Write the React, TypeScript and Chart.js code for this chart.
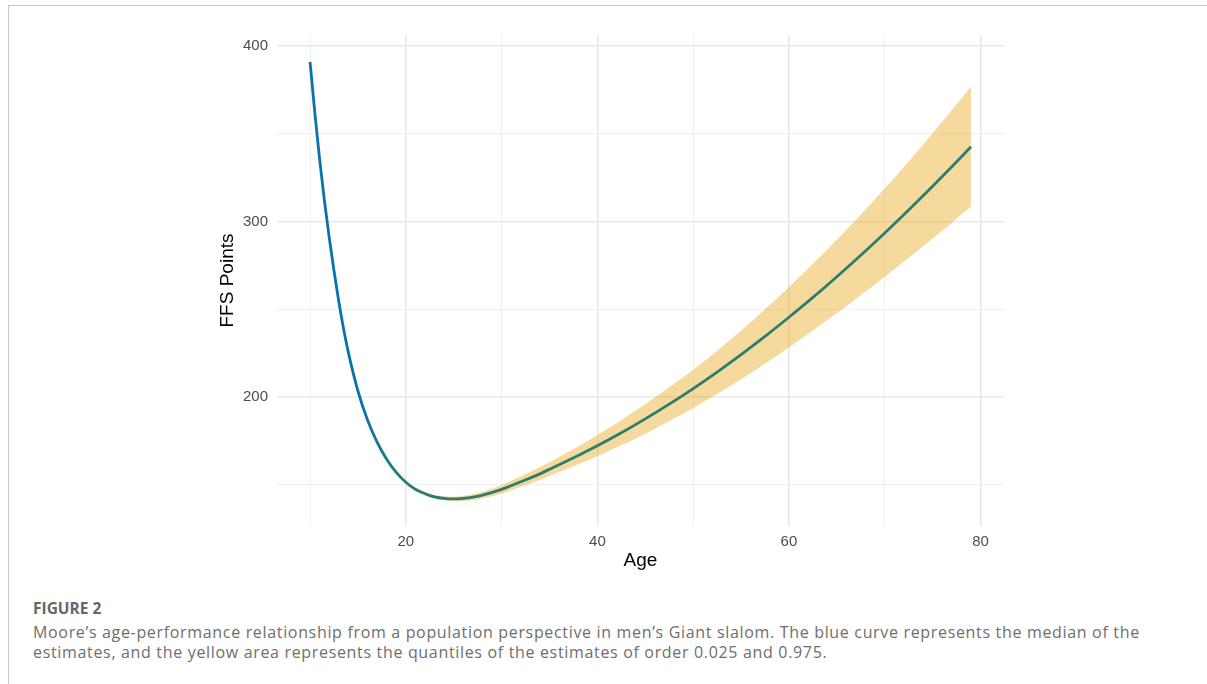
import React, { useEffect, useRef } from "react";
import { Chart, registerables } from "chart.js";

Chart.register(...registerables);

const ages = [10, 10.5, 11, 11.5, 12, 12.5, 13, 13.5, 14, 15, 16, 17, 18, 19, 20, 21, 22, 23, 24, 25, 26, 27, 28, 30, 32, 34, 36, 38, 40, 42.5, 45, 47.5, 50, 52.5, 55, 57.5, 60, 62.5, 65, 67.5, 70, 72.5, 75, 77, 79];
const median = [391, 362, 335.5, 312, 291, 272, 254.5, 239, 225.5, 203.5, 187, 174.4, 164.6, 157.1, 151.5, 147.5, 145, 143.2, 142.3, 142, 142.3, 143, 144.2, 147.5, 151.8, 156.3, 161.5, 166.8, 172.3, 179.7, 187.6, 196.0, 204.9, 214.3, 224.2, 234.6, 245.5, 256.8, 268.6, 280.8, 293.5, 306.6, 320.1, 331.2, 342.6];
const upper = [391.3, 362.3, 335.8, 312.3, 291.3, 272.3, 254.8, 239.3, 225.9, 203.9, 187.5, 174.9, 165.2, 157.7, 152.2, 148.3, 145.9, 144.2, 143.5, 143.3, 143.8, 144.7, 146.1, 150.0, 154.9, 160.0, 165.9, 171.9, 178.4, 187.0, 196.1, 205.6, 215.6, 226.5, 238.0, 250.1, 262.8, 276.0, 289.7, 304.0, 318.9, 334.3, 350.3, 363.4, 376.9];
const lower = [390.7, 361.7, 335.2, 311.7, 290.7, 271.7, 254.2, 238.7, 225.1, 203.1, 186.5, 173.9, 164.0, 156.5, 150.8, 146.7, 144.1, 142.2, 141.2, 140.7, 140.8, 141.3, 142.3, 145.0, 148.9, 152.8, 157.3, 161.8, 166.4, 172.6, 179.2, 186.3, 193.8, 201.8, 210.2, 219.0, 228.3, 238.0, 247.9, 258.1, 268.6, 279.4, 290.4, 299.4, 308.6];

const xTicks = [10, 20, 30, 40, 50, 60, 70, 80];
const xLabelled = [20, 40, 60, 80];
const yTicks = [150, 200, 250, 300, 350, 400];
const yLabelled = [200, 300, 400];

const FONT = '"Liberation Sans", Arial, sans-serif';
const BLUE = "#0673ab";
const TEAL = "#2b7d6c";

export default function App() {
  const ref = useRef<HTMLCanvasElement>(null);

  useEffect(() => {
    if (!ref.current) return;
    const pts = (arr: number[]) => ages.map((a, i) => ({ x: a, y: arr[i] }));
    const gridColor = (major: boolean) => (major ? "#e8e8e8" : "#eeeeee");
    const lineColor = (c: any) => {
      const chart = c.chart;
      const xs = chart.scales?.x;
      if (!chart.chartArea || !xs) return BLUE;
      const g = chart.ctx.createLinearGradient(xs.getPixelForValue(15.5), 0, xs.getPixelForValue(20), 0);
      g.addColorStop(0, BLUE);
      g.addColorStop(1, TEAL);
      return g;
    };
    const chart = new Chart(ref.current, {
      type: "line",
      data: {
        datasets: [
          {
            label: "median",
            data: pts(median),
            borderColor: lineColor,
            borderWidth: 2.8,
            pointRadius: 0,
            cubicInterpolationMode: "monotone",
            fill: false,
            order: 0,
          },
          {
            label: "upper",
            data: pts(upper),
            borderColor: "rgba(0,0,0,0)",
            borderWidth: 0,
            backgroundColor: "rgba(232,160,10,0.4)",
            pointRadius: 0,
            cubicInterpolationMode: "monotone",
            fill: "+1",
            order: 1,
          },
          {
            label: "lower",
            data: pts(lower),
            borderColor: "rgba(0,0,0,0)",
            borderWidth: 0,
            pointRadius: 0,
            cubicInterpolationMode: "monotone",
            fill: false,
            order: 1,
          },
        ],
      },
      options: {
        animation: false,
        responsive: false,
        devicePixelRatio: 1,
        layout: { padding: { left: 200, right: 203, top: 35, bottom: 14 } },
        plugins: { legend: { display: false }, tooltip: { enabled: false } },
        scales: {
          x: {
            type: "linear",
            min: 6.55,
            max: 82.45,
            afterBuildTicks: (s: any) => {
              s.ticks = xTicks.map((v) => ({ value: v }));
            },
            afterFit: (s: any) => {
              s.height = 50;
            },
            ticks: {
              autoSkip: false,
              maxRotation: 0,
              padding: 7,
              color: "#4d4d4d",
              font: { family: FONT, size: 15 },
              callback: (v: any) => (xLabelled.includes(Number(v)) ? String(v) : ""),
            },
            grid: {
              drawTicks: false,
              color: (c: any) => gridColor(xLabelled.includes(c.tick?.value)),
              lineWidth: (c: any) => (xLabelled.includes(c.tick?.value) ? 1.6 : 0.9),
            },
            border: { display: false },
            title: {
              display: true,
              text: "Age",
              color: "#000",
              font: { family: FONT, size: 19 },
              padding: { top: 0, bottom: 4 },
            },
          },
          y: {
            type: "linear",
            min: 126.6,
            max: 406.3,
            afterBuildTicks: (s: any) => {
              s.ticks = yTicks.map((v) => ({ value: v }));
            },
            afterFit: (s: any) => {
              s.width = 77;
            },
            ticks: {
              autoSkip: false,
              padding: 9,
              color: "#4d4d4d",
              font: { family: FONT, size: 15 },
              callback: (v: any) => (yLabelled.includes(Number(v)) ? String(v) : ""),
            },
            grid: {
              drawTicks: false,
              color: (c: any) => gridColor(yLabelled.includes(c.tick?.value)),
              lineWidth: (c: any) => (yLabelled.includes(c.tick?.value) ? 1.6 : 0.9),
            },
            border: { display: false },
            title: {
              display: true,
              text: "FFS Points",
              color: "#000",
              font: { family: FONT, size: 19 },
              padding: { top: 16.6, bottom: 0 },
            },
          },
        },
      },
    } as any);
    return () => chart.destroy();
  }, []);

  const captionFont = '"Open Sans", "Noto Sans", sans-serif';

  return (
    <div style={{ position: "absolute", left: 0, top: 0, width: 1207, height: 684, overflow: "hidden", background: "#fff" }}>
      <div
        style={{
          position: "absolute",
          left: 8,
          top: 5,
          width: 1210,
          height: 690,
          borderTop: "1px solid #c8c8c8",
          borderLeft: "1px solid #c8c8c8",
        }}
      />
      <canvas ref={ref} width={1207} height={590} style={{ position: "absolute", left: 0, top: 0, width: 1207, height: 590 }} />
      <div
        style={{
          position: "absolute",
          left: 33,
          top: 598,
          fontFamily: captionFont,
          fontWeight: 700,
          fontSize: 15.5,
          lineHeight: "20px",
          color: "#666666",
          whiteSpace: "nowrap",
        }}
      >
        FIGURE 2
      </div>
      <div
        style={{
          position: "absolute",
          left: 33,
          top: 622,
          fontFamily: captionFont,
          fontSize: 16,
          letterSpacing: "0.67px",
          lineHeight: "20px",
          color: "#6e6e6e",
          whiteSpace: "nowrap",
        }}
      >
        Moore’s age-performance relationship from a population perspective in men’s Giant slalom. The blue curve represents the median of the
        <br />
        estimates, and the yellow area represents the quantiles of the estimates of order 0.025 and 0.975.
      </div>
    </div>
  );
}
